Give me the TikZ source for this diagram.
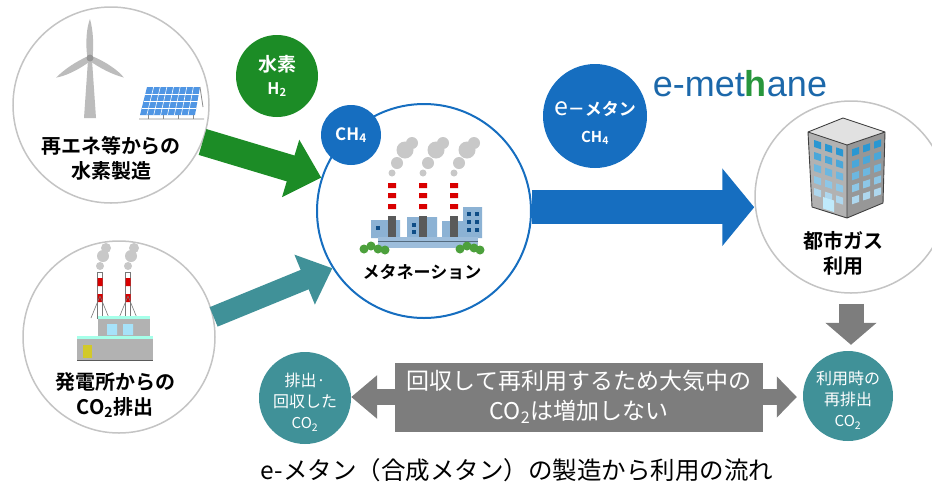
\documentclass[tikz,border=0pt]{standalone}
\usepackage{fontspec}
\setmainfont{Noto Sans CJK JP}[BoldFont={Noto Sans CJK JP Bold}]
\newfontfamily\logofont{Liberation Sans}
\usetikzlibrary{arrows.meta}
\definecolor{h2green}{RGB}{28,140,38}
\definecolor{ch4blue}{RGB}{22,110,192}
\definecolor{co2teal}{RGB}{64,145,152}
\definecolor{flowgray}{RGB}{125,125,125}
\definecolor{ringgray}{RGB}{196,196,196}
\definecolor{smokegray}{RGB}{200,200,200}
\definecolor{turbgray}{RGB}{188,188,188}
\definecolor{wallgray}{RGB}{178,178,178}
\definecolor{plantblue}{RGB}{140,178,212}
\definecolor{panelblue}{RGB}{80,150,228}
\definecolor{bushgreen}{RGB}{76,160,60}
\definecolor{logoblue}{RGB}{28,104,170}
\definecolor{logogreen}{RGB}{40,150,60}

\begin{document}
\begin{tikzpicture}[x=1pt,y=-1pt,
  ring/.style={circle,draw=ringgray,line width=1.5pt,fill=white,minimum size=#1,inner sep=0pt},
  disc/.style={circle,fill=#1,text=white,inner sep=0pt,align=center},
  ringtext/.style={align=center,font=\bfseries\fontsize{20}{25}\selectfont},
  co2text/.style={align=center,text=white,font=\fontsize{16}{21}\selectfont},
  greenflow/.style={draw=h2green,line width=27pt,-{Triangle[length=32pt,width=58pt]}},
  tealflow/.style={draw=co2teal,line width=21pt,-{Triangle[length=30pt,width=52pt]}},
  blueflow/.style={draw=ch4blue,line width=34pt,-{Triangle[length=32pt,width=76pt]}},
  grayflow/.style={draw=flowgray,line width=#1pt}]
\useasboundingbox (0,0) rectangle (932,491);

\node[ring=196pt] (renew) at (111,105) {};
\node[ring=192pt] (power) at (119,337) {};
\node[ring=192pt] (city) at (851,197) {};
\node[circle,draw=ch4blue,line width=2pt,fill=white,minimum size=214pt] (meth) at (424,211) {};

% wind turbine and solar panel
\fill[turbgray] (84,118) -- (88,60) -- (92,60) -- (96,118) -- cycle;
\foreach \a in {0,120,240}
  \fill[turbgray,rotate around={\a:(90,58)}]
    (87.5,58) .. controls (85,42) and (87,26) .. (90,19) .. controls (93,30) and (94,44) .. (92.5,58) -- cycle;
\fill[turbgray!80!black] (90,58) circle (3.5);
\fill[panelblue] (147,87) -- (200,87) -- (195,115) -- (140,115) -- cycle;
\foreach \i in {1,...,7}
  \draw[white,line width=.6pt] ({147+\i*6.625},87) -- ({140+\i*6.875},115);
\foreach \j in {1,2,3}
  \draw[white,line width=.6pt] ({147-1.75*\j},{87+7*\j}) -- ({200-1.25*\j},{87+7*\j});
\draw[smokegray!70!black,line width=.8pt] (200,87) -- (203,107) (139,119) -- (204,119);
\foreach \x in {148,163,178,193}
  \draw[smokegray!70!black,line width=.8pt] (\x,115) -- (\x,119);
\node[ringtext] (renewtxt) at (111,158) {再エネ等からの\\水素製造};

% power plant
\foreach \x in {100,128} {
  \fill[smokegray] (\x,266) circle (4) (\x+3,256) circle (6) (\x+6,248) circle (5);
  \fill[white,draw=smokegray!60!black,line width=.4pt] (\x-2.5,272) rectangle (\x+2.5,318);
  \fill[red!85!black] (\x-2.5,278) rectangle (\x+2.5,286) (\x-2.5,294) rectangle (\x+2.5,302);
  \draw[smokegray!60!black,line width=.6pt] (\x,296) -- (\x-9,318) (\x,296) -- (\x+9,318);
}
\fill[wallgray] (98,318) rectangle (150,338);
\fill[green!25!cyan!35] (98,316) rectangle (150,319);
\fill[cyan!35] (107,324) rectangle (117,335) (123,324) rectangle (133,335);
\fill[wallgray] (77,338) rectangle (153,360);
\fill[green!25!cyan!35] (77,336) rectangle (153,339);
\fill[yellow!80!black] (83,345) rectangle (92,358);
\draw[smokegray!45!black,line width=1pt] (77,360) -- (153,360);
\node[ringtext] (powertxt) at (115,395) {発電所からの\\CO\textsubscript{2}排出};

% methanation plant
\foreach \c in {392,423,454} {
  \fill[smokegray] (\c,173) circle (3.5) (\c+5,163) circle (6) (\c+13,150) circle (8.5) (\c+20,143) circle (6);
}
\fill[plantblue] (371,220) rectangle (400,238) (407,217) rectangle (437,238)
  (442,221) rectangle (465,238) (463,207) rectangle (482,238);
\foreach \x/\y in {376/226,412/223,412/230,467/212,475/212,467/220,475/220,467/228,475/228}
  \fill[ch4blue!70!black] (\x,\y) rectangle ++(4,4);
\foreach \c in {392,423,454} {
  \fill[white] (\c-4,178) rectangle (\c+4,238);
  \fill[red!85!black] (\c-4,183) rectangle (\c+4,188) (\c-4,193) rectangle (\c+4,198) (\c-4,204) rectangle (\c+4,209);
  \fill[smokegray!45!black] (\c-4,216) rectangle (\c+4,238);
}
\fill[plantblue!85!white] (378,237) rectangle (478,248);
\draw[plantblue!60!black,line width=.8pt] (378,241) -- (478,241);
\foreach \x/\y in {364/249,371/246,378/249,385/250,460/249,467/246,474/248,480/250}
  \fill[bushgreen] (\x,\y) circle (4.5);
\node[ringtext,font=\bfseries\fontsize{17}{20}\selectfont] (methtxt) at (422,272) {メタネーション};

% office building
\fill[wallgray] (808,132) -- (847,145) -- (847,218) -- (812,207) -- cycle;
\fill[wallgray!85!black] (847,145) -- (885,132) -- (883,203) -- (847,218) -- cycle;
\fill[smokegray!55] (808,132) -- (843,118) -- (885,132) -- (847,145) -- cycle;
\draw[black!75,line width=.9pt,line join=round] (808,132) -- (843,118) -- (885,132) -- (847,145) -- cycle
  (808,132) -- (812,207) -- (847,218) -- (883,203) -- (885,132) (847,145) -- (847,218);
\foreach \j in {0,...,4} {
  \foreach \x in {814,825,836}
    \fill[ch4blue!80!cyan!\the\numexpr90-14*\j\relax!white] (\x,{138+(\x-808)/3+12*\j}) -- ++(7,2.3) -- ++(0,7) -- ++(-7,-2.3) -- cycle;
  \foreach \x in {852,863,874}
    \fill[ch4blue!80!cyan!\the\numexpr90-14*\j\relax!white] (\x,{151-(\x-847)/2.9+12*\j}) -- ++(7,-2.3) -- ++(0,7) -- ++(-7,2.3) -- cycle;
}
\fill[cyan!25] (823,197) -- (834,200.5) -- (834,212) -- (823,208.5) -- cycle;
\node[ringtext] (citytxt) at (843,253) {都市ガス\\利用};

% coloured discs
\node[disc=h2green,minimum size=82pt,font=\bfseries\fontsize{19}{25}\selectfont] (h2) at (277,76)
  {水素\\[-2pt]{\fontsize{16}{16}\selectfont H\textsubscript{2}}};
\node[disc=ch4blue,minimum size=60pt,font=\bfseries\fontsize{17}{17}\selectfont] (ch4) at (351,135) {CH\textsubscript{4}};
\node[disc=ch4blue,minimum size=104pt,font=\bfseries\fontsize{17}{26}\selectfont] (emeth) at (595,116) {};
\node[align=center,text=white,font=\bfseries\fontsize{17}{27}\selectfont] (emethtxt) at (595,123)
  {{\fontsize{25}{25}\mdseries e}－メタン\\{\fontsize{15}{15}\selectfont CH\textsubscript{4}}};
\node[text=logoblue,font=\logofont\fontsize{36}{36}\selectfont] (logo) at (740,84)
  {e-met\textcolor{logogreen}{\bfseries h}ane};

\node[disc=co2teal,minimum size=92pt] (recov) at (305,398) {};
\node[co2text] (recovtxt) at (305,402) {排出·\\回収した\\{\fontsize{15}{15}\selectfont CO\textsubscript{2}}};
\node[disc=co2teal,minimum size=90pt] (reemit) at (848,396) {};
\node[co2text] (reemittxt) at (848,400) {利用時の\\再排出\\{\fontsize{15}{15}\selectfont CO\textsubscript{2}}};

\node[fill=flowgray,text=white,minimum width=368pt,minimum height=69pt,align=center,
  font=\fontsize{23}{30}\selectfont] (msg) at (579,397)
  {回収して再利用するため大気中の\\CO\textsubscript{2}は増加しない};

\path (renew.-22) edge[greenflow] (meth.162)
      (power.12) edge[tealflow] (meth.212)
      (meth.2) edge[blueflow] (city.west |- meth.2);
\path (city.south) edge[grayflow=25,shorten <=10pt,shorten >=6pt,-{Triangle[length=22pt,width=50pt]}] (city.south |- reemit.north)
      (msg.west) edge[grayflow=16,-{Triangle[length=26pt,width=42pt]}] (recov.east |- msg.west)
      (msg.east) edge[grayflow=16,shorten >=6pt,-{Triangle[length=20pt,width=40pt]}] (reemit.west |- msg.east);

\node[font=\fontsize{24.5}{28}\selectfont] (title) at (517,470) {e-メタン（合成メタン）の製造から利用の流れ};
\end{tikzpicture}
\end{document}
